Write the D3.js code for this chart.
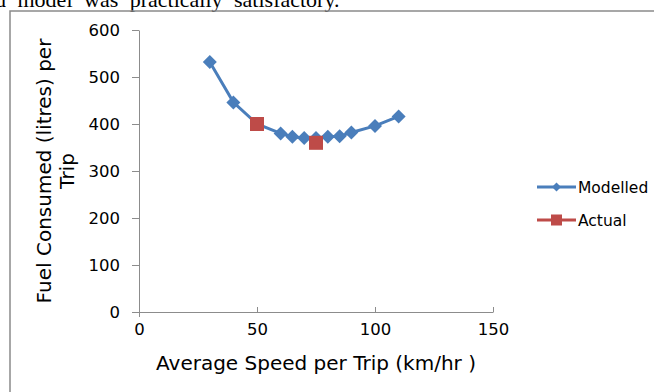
<!DOCTYPE html>
<html>
<head>
<meta charset="utf-8">
<script src="https://cdn.jsdelivr.net/npm/d3@7"></script>
<style>
body { margin:0; background:#fff; }
svg text { font-family: "DejaVu Sans", Verdana, sans-serif; fill:#000; }
.tick text { font-size:16.5px; }
.axis path, .axis line { stroke:#8c8c8c; }
</style>
</head>
<body>
<svg id="chart" width="654" height="392"></svg>
<script>
// modelled curve
var speedModel = [30, 40, 50, 60, 65, 70, 75, 80, 85, 90, 100, 110]
var fuelModel = [532, 446, 400, 380, 373, 370, 370, 373, 374, 382, 396, 416]
// actual measurements
var speedActual = [50, 75]
var fuelActual = [400, 360]
var xTicks = [0, 50, 100, 150]
var yTicks = [0, 100, 200, 300, 400, 500, 600]
var seriesNames = ["Modelled", "Actual"]

var svg = d3.select("#chart")

// bit of the page text above the chart
svg.append("text")
    .attr("x", -5).attr("y", 6.5)
    .style("font-family", "'Liberation Serif', 'Times New Roman', serif")
    .style("font-size", "22px")
    .style("word-spacing", "6px")
    .text("d model was practically satisfactory.")

// chart frame
svg.append("rect")
    .attr("x", 10).attr("y", 11)
    .attr("width", 700).attr("height", 400)
    .attr("fill", "none").attr("stroke", "#8a8a8a").attr("stroke-width", 1.5)

var xScale = d3.scaleLinear().domain([0, 150]).range([139, 493])
var yScale = d3.scaleLinear().domain([0, 600]).range([312, 30])

var xAxis = svg.append("g")
    .attr("class", "axis")
    .attr("transform", "translate(0,312)")
    .call(d3.axisBottom(xScale).tickValues(xTicks).tickSize(-5).tickSizeOuter(0).tickPadding(11))
xAxis.selectAll(".tick line").filter(function(d) { return d == 0 }).attr("y2", 5)

svg.append("g")
    .attr("class", "axis")
    .attr("transform", "translate(139,0)")
    .call(d3.axisLeft(yScale).tickValues(yTicks).tickSize(7).tickSizeOuter(0).tickPadding(12))

svg.selectAll(".axis .domain").attr("stroke", "#8c8c8c")
svg.selectAll(".axis .tick text").attr("fill", "#000")

// axis titles
svg.append("text")
    .attr("x", 316).attr("y", 370)
    .attr("text-anchor", "middle")
    .style("font-size", "20px")
    .text("Average Speed per Trip (km/hr )")

var yt = svg.append("text")
    .attr("transform", "translate(51,171) rotate(-90)")
    .attr("text-anchor", "middle")
    .style("font-size", "20px")
yt.append("tspan").attr("x", 0).attr("dy", 0).text("Fuel Consumed (litres) per")
yt.append("tspan").attr("x", 0).attr("dy", 23).text("Trip")

var blue = "#4a7ebb", red = "#be4b48"

var modelData = speedModel.map(function(s, i) { return [s, fuelModel[i]] })
var actualData = speedActual.map(function(s, i) { return [s, fuelActual[i]] })

var line = d3.line()
    .x(function(d) { return xScale(d[0]) })
    .y(function(d) { return yScale(d[1]) })

svg.append("path")
    .datum(modelData)
    .attr("d", line)
    .attr("fill", "none").attr("stroke", blue).attr("stroke-width", 3)

// square diamond, r = half width
function diamondPath(r) {
    return "M0," + (-r) + "L" + r + ",0L0," + r + "L" + (-r) + ",0Z"
}

svg.selectAll(".mdl")
    .data(modelData)
    .enter().append("path")
    .attr("class", "mdl")
    .attr("transform", function(d) { return "translate(" + xScale(d[0]) + "," + yScale(d[1]) + ")" })
    .attr("d", diamondPath(7))
    .attr("fill", blue)

svg.selectAll(".act")
    .data(actualData)
    .enter().append("rect")
    .attr("class", "act")
    .attr("x", function(d) { return xScale(d[0]) - 7 })
    .attr("y", function(d) { return yScale(d[1]) - 7 })
    .attr("width", 14).attr("height", 14)
    .attr("fill", red)

// legend
var legend = svg.append("g")
seriesNames.forEach(function(name, i) {
    var ly = 187 + i * 33
    var col = i == 0 ? blue : red
    legend.append("line")
        .attr("x1", 537).attr("x2", 576).attr("y1", ly).attr("y2", ly)
        .attr("stroke", col).attr("stroke-width", 3)
    if (i == 0) {
        legend.append("path")
            .attr("transform", "translate(556.5," + ly + ")")
            .attr("d", diamondPath(4.5))
            .attr("fill", col)
    } else {
        legend.append("rect")
            .attr("x", 551).attr("y", ly - 5.5).attr("width", 11).attr("height", 11)
            .attr("fill", col)
    }
    legend.append("text")
        .attr("x", 578).attr("y", ly + 5.5)
        .style("font-size", "15.5px")
        .text(name)
})
</script>
</body>
</html>
